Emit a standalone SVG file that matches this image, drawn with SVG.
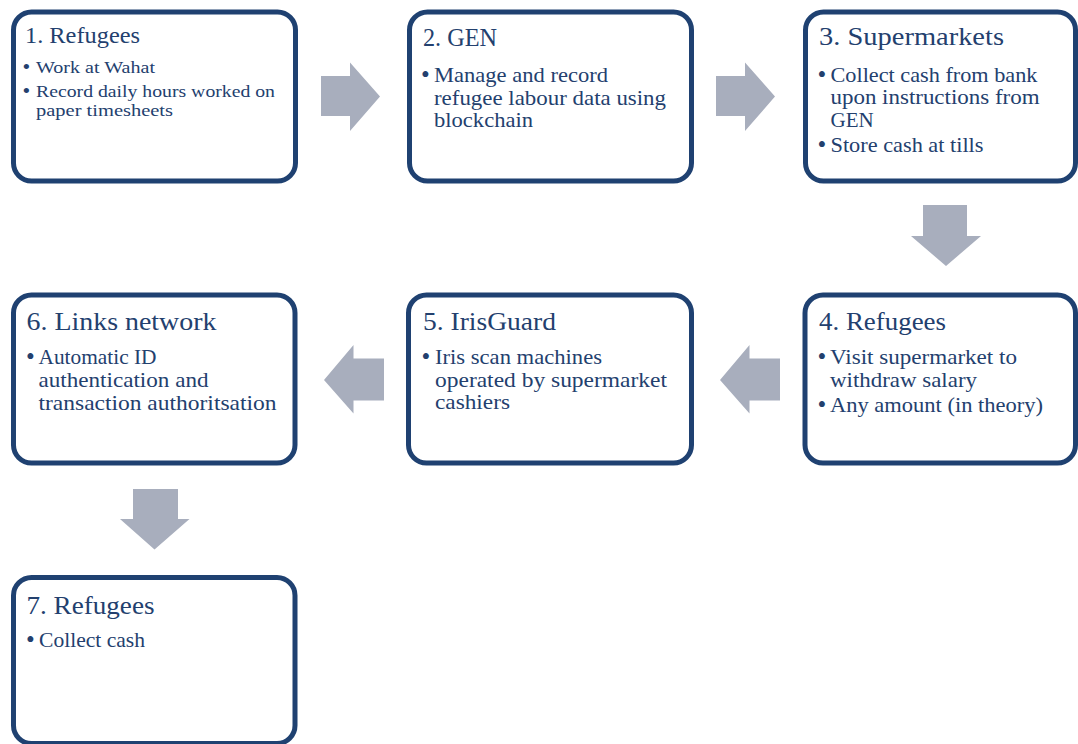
<svg xmlns="http://www.w3.org/2000/svg" width="1078" height="744" viewBox="0 0 1078 744">
<style>
.box{fill:#ffffff;stroke:#1f4171;stroke-width:5}
.arr{fill:#a8aebd}
text{font-family:"Liberation Serif","DejaVu Serif",serif;fill:#23406e}
.t{font-size:26px}
.b{font-size:21px}
.d{font-size:25px}
.t1{font-size:24px}
.b1{font-size:17.5px}
.d1{font-size:22px}
</style>
<rect width="1078" height="744" fill="#ffffff"/>
<g id="connectors">
<polygon class="arr" points="321,76 350,76 350,62.5 380,96.5 350,131 350,116 321,116"/>
<polygon class="arr" points="716,76 745,76 745,62.5 775,96.5 745,131 745,116 716,116"/>
<polygon class="arr" points="923,205 967,205 967,236 981,236 946,266 911,236 923,236"/>
<polygon class="arr" points="780,358.5 749.5,358.5 749.5,345 720,380 749.5,413.5 749.5,400.5 780,400.5"/>
<polygon class="arr" points="384,358.5 353.5,358.5 353.5,345 324,380 353.5,413.5 353.5,400.5 384,400.5"/>
<polygon class="arr" points="133,489 178,489 178,519 189.5,519 154.5,549.5 120,519 133,519"/>
</g>
<g id="node1">
<rect class="box" x="13.5" y="12" width="282" height="169" rx="18"/>
<text class="t1" x="25" y="43" textLength="115" lengthAdjust="spacingAndGlyphs">1. Refugees</text>
<text class="d1" x="22.5" y="74">•</text>
<text class="b1" x="36" y="73" textLength="119" lengthAdjust="spacingAndGlyphs">Work at Wahat</text>
<text class="d1" x="22.5" y="97.5">•</text>
<text class="b1" x="36" y="96.5" textLength="239" lengthAdjust="spacingAndGlyphs">Record daily hours worked on</text>
<text class="b1" x="36" y="116" textLength="137" lengthAdjust="spacingAndGlyphs">paper timesheets</text>
</g>
<g id="node2">
<rect class="box" x="409.5" y="12" width="282" height="169" rx="18"/>
<text class="t" x="423" y="46" textLength="74" lengthAdjust="spacingAndGlyphs">2. GEN</text>
<text class="d" x="421" y="83">•</text>
<text class="b" x="434" y="82" textLength="174" lengthAdjust="spacingAndGlyphs">Manage and record</text>
<text class="b" x="434" y="104.5" textLength="232" lengthAdjust="spacingAndGlyphs">refugee labour data using</text>
<text class="b" x="434" y="127" textLength="99" lengthAdjust="spacingAndGlyphs">blockchain</text>
</g>
<g id="node3">
<rect class="box" x="805.5" y="12" width="270" height="169" rx="18"/>
<text class="t" x="819" y="45" textLength="185" lengthAdjust="spacingAndGlyphs">3. Supermarkets</text>
<text class="d" x="817.5" y="82.5">•</text>
<text class="b" x="830.5" y="81.5" textLength="207" lengthAdjust="spacingAndGlyphs">Collect cash from bank</text>
<text class="b" x="830.5" y="104" textLength="209" lengthAdjust="spacingAndGlyphs">upon instructions from</text>
<text class="b" x="830.5" y="126.5">GEN</text>
<text class="d" x="817.5" y="153">•</text>
<text class="b" x="830.5" y="152" textLength="153" lengthAdjust="spacingAndGlyphs">Store cash at tills</text>
</g>
<g id="node4">
<rect class="box" x="805" y="295" width="270.5" height="168" rx="18"/>
<text class="t" x="819" y="330" textLength="127" lengthAdjust="spacingAndGlyphs">4. Refugees</text>
<text class="d" x="817.5" y="364.5">•</text>
<text class="b" x="830" y="363.5" textLength="187" lengthAdjust="spacingAndGlyphs">Visit supermarket to</text>
<text class="b" x="830" y="386.5" textLength="147" lengthAdjust="spacingAndGlyphs">withdraw salary</text>
<text class="d" x="817.5" y="413">•</text>
<text class="b" x="830" y="412" textLength="213" lengthAdjust="spacingAndGlyphs">Any amount (in theory)</text>
</g>
<g id="node5">
<rect class="box" x="408.5" y="295" width="283" height="168" rx="18"/>
<text class="t" x="423" y="329.5" textLength="133" lengthAdjust="spacingAndGlyphs">5. IrisGuard</text>
<text class="d" x="421.5" y="364.5">•</text>
<text class="b" x="435" y="363.5" textLength="167" lengthAdjust="spacingAndGlyphs">Iris scan machines</text>
<text class="b" x="435" y="386.5" textLength="232" lengthAdjust="spacingAndGlyphs">operated by supermarket</text>
<text class="b" x="435" y="409" textLength="75" lengthAdjust="spacingAndGlyphs">cashiers</text>
</g>
<g id="node6">
<rect class="box" x="13.5" y="295" width="281.5" height="168" rx="18"/>
<text class="t" x="26.5" y="330" textLength="190" lengthAdjust="spacingAndGlyphs">6. Links network</text>
<text class="d" x="26" y="364.5">•</text>
<text class="b" x="38.5" y="363.5" textLength="118" lengthAdjust="spacingAndGlyphs">Automatic ID</text>
<text class="b" x="38.5" y="386.5" textLength="170" lengthAdjust="spacingAndGlyphs">authentication and</text>
<text class="b" x="38.5" y="409.5" textLength="238" lengthAdjust="spacingAndGlyphs">transaction authoritsation</text>
</g>
<g id="node7">
<rect class="box" x="13.5" y="577.5" width="281.5" height="166" rx="18"/>
<text class="t" x="26.5" y="613.5" textLength="128" lengthAdjust="spacingAndGlyphs">7. Refugees</text>
<text class="d" x="26" y="648">•</text>
<text class="b" x="39" y="647" textLength="106" lengthAdjust="spacingAndGlyphs">Collect cash</text>
</g>
</svg>
